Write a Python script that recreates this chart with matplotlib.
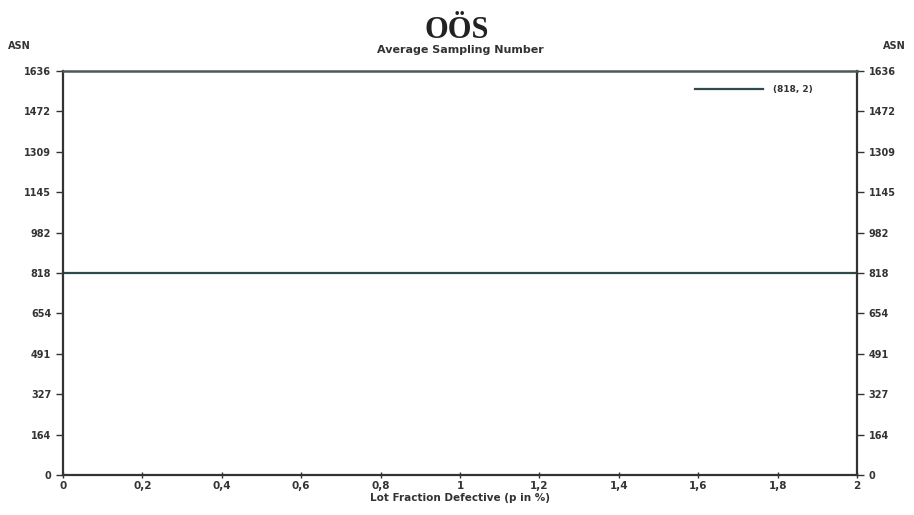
import numpy as np
import matplotlib.pyplot as plt

# data
p_values = [0.0, 2.0]
asn_values = [818, 818]
y_ticks = [0, 164, 327, 491, 654, 818, 982, 1145, 1309, 1472, 1636]
y_labels = ["0", "164", "327", "491", "654", "818", "982", "1145", "1309", "1472", "1636"]
x_ticks = [0, 0.2, 0.4, 0.6, 0.8, 1.0, 1.2, 1.4, 1.6, 1.8, 2.0]
x_labels = ["0", "0,2", "0,4", "0,6", "0,8", "1", "1,2", "1,4", "1,6", "1,8", "2"]
plan_label = "(818, 2)"

fig = plt.figure(figsize=(9.14, 5.15), dpi=100)
ax = fig.add_axes([63 / 914, 1 - 475 / 515, (857 - 63) / 914, (475 - 71) / 515])

ax.plot(p_values, asn_values, color="#2e4a4a", lw=1.6, label=plan_label)
ax.set_xlim(0, 2)
ax.set_ylim(0, 1636)

ax.set_yticks(y_ticks)
ax.set_yticklabels(y_labels)
ax.set_xticks(x_ticks)
ax.set_xticklabels(x_labels)
ax.tick_params(axis="y", which="both", direction="out", length=5, width=1,
               labelsize=7, left=True, right=True, labelleft=True, labelright=True,
               colors="#333333")
ax.tick_params(axis="x", direction="inout", length=5, width=1, labelsize=7.5,
               colors="#333333", pad=2)
for lbl in ax.get_xticklabels() + ax.get_yticklabels():
    lbl.set_fontweight("bold")

for side in ["left", "right", "bottom"]:
    ax.spines[side].set_color("#333333")
    ax.spines[side].set_linewidth(1.6)
ax.spines["top"].set_color("#4a5a5a")
ax.spines["top"].set_linewidth(1.8)

ax.set_xlabel("Lot Fraction Defective (p in %)", fontsize=7.5, fontweight="bold",
              color="#333333", labelpad=1)
ax.set_title("Average Sampling Number", fontsize=8, fontweight="bold",
             color="#333333", pad=13)
fig.text(8 / 914, 1 - 46 / 515, "ASN", fontsize=7, fontweight="bold", color="#333333",
         va="center", ha="left")
fig.text(906 / 914, 1 - 46 / 515, "ASN", fontsize=7, fontweight="bold", color="#333333",
         va="center", ha="right")
fig.text(0.5, 1 - 31 / 515, "OÖS", fontsize=22, family="Liberation Serif",
         fontweight="bold", color="#222222", ha="center", va="center")

leg = ax.legend(loc="upper right", frameon=False, fontsize=6.5, handlelength=7.5,
                bbox_to_anchor=(0.955, 0.985), handletextpad=1.2)
for t in leg.get_texts():
    t.set_fontweight("bold")
    t.set_color("#333333")

fig.savefig("out.png", dpi=100)
